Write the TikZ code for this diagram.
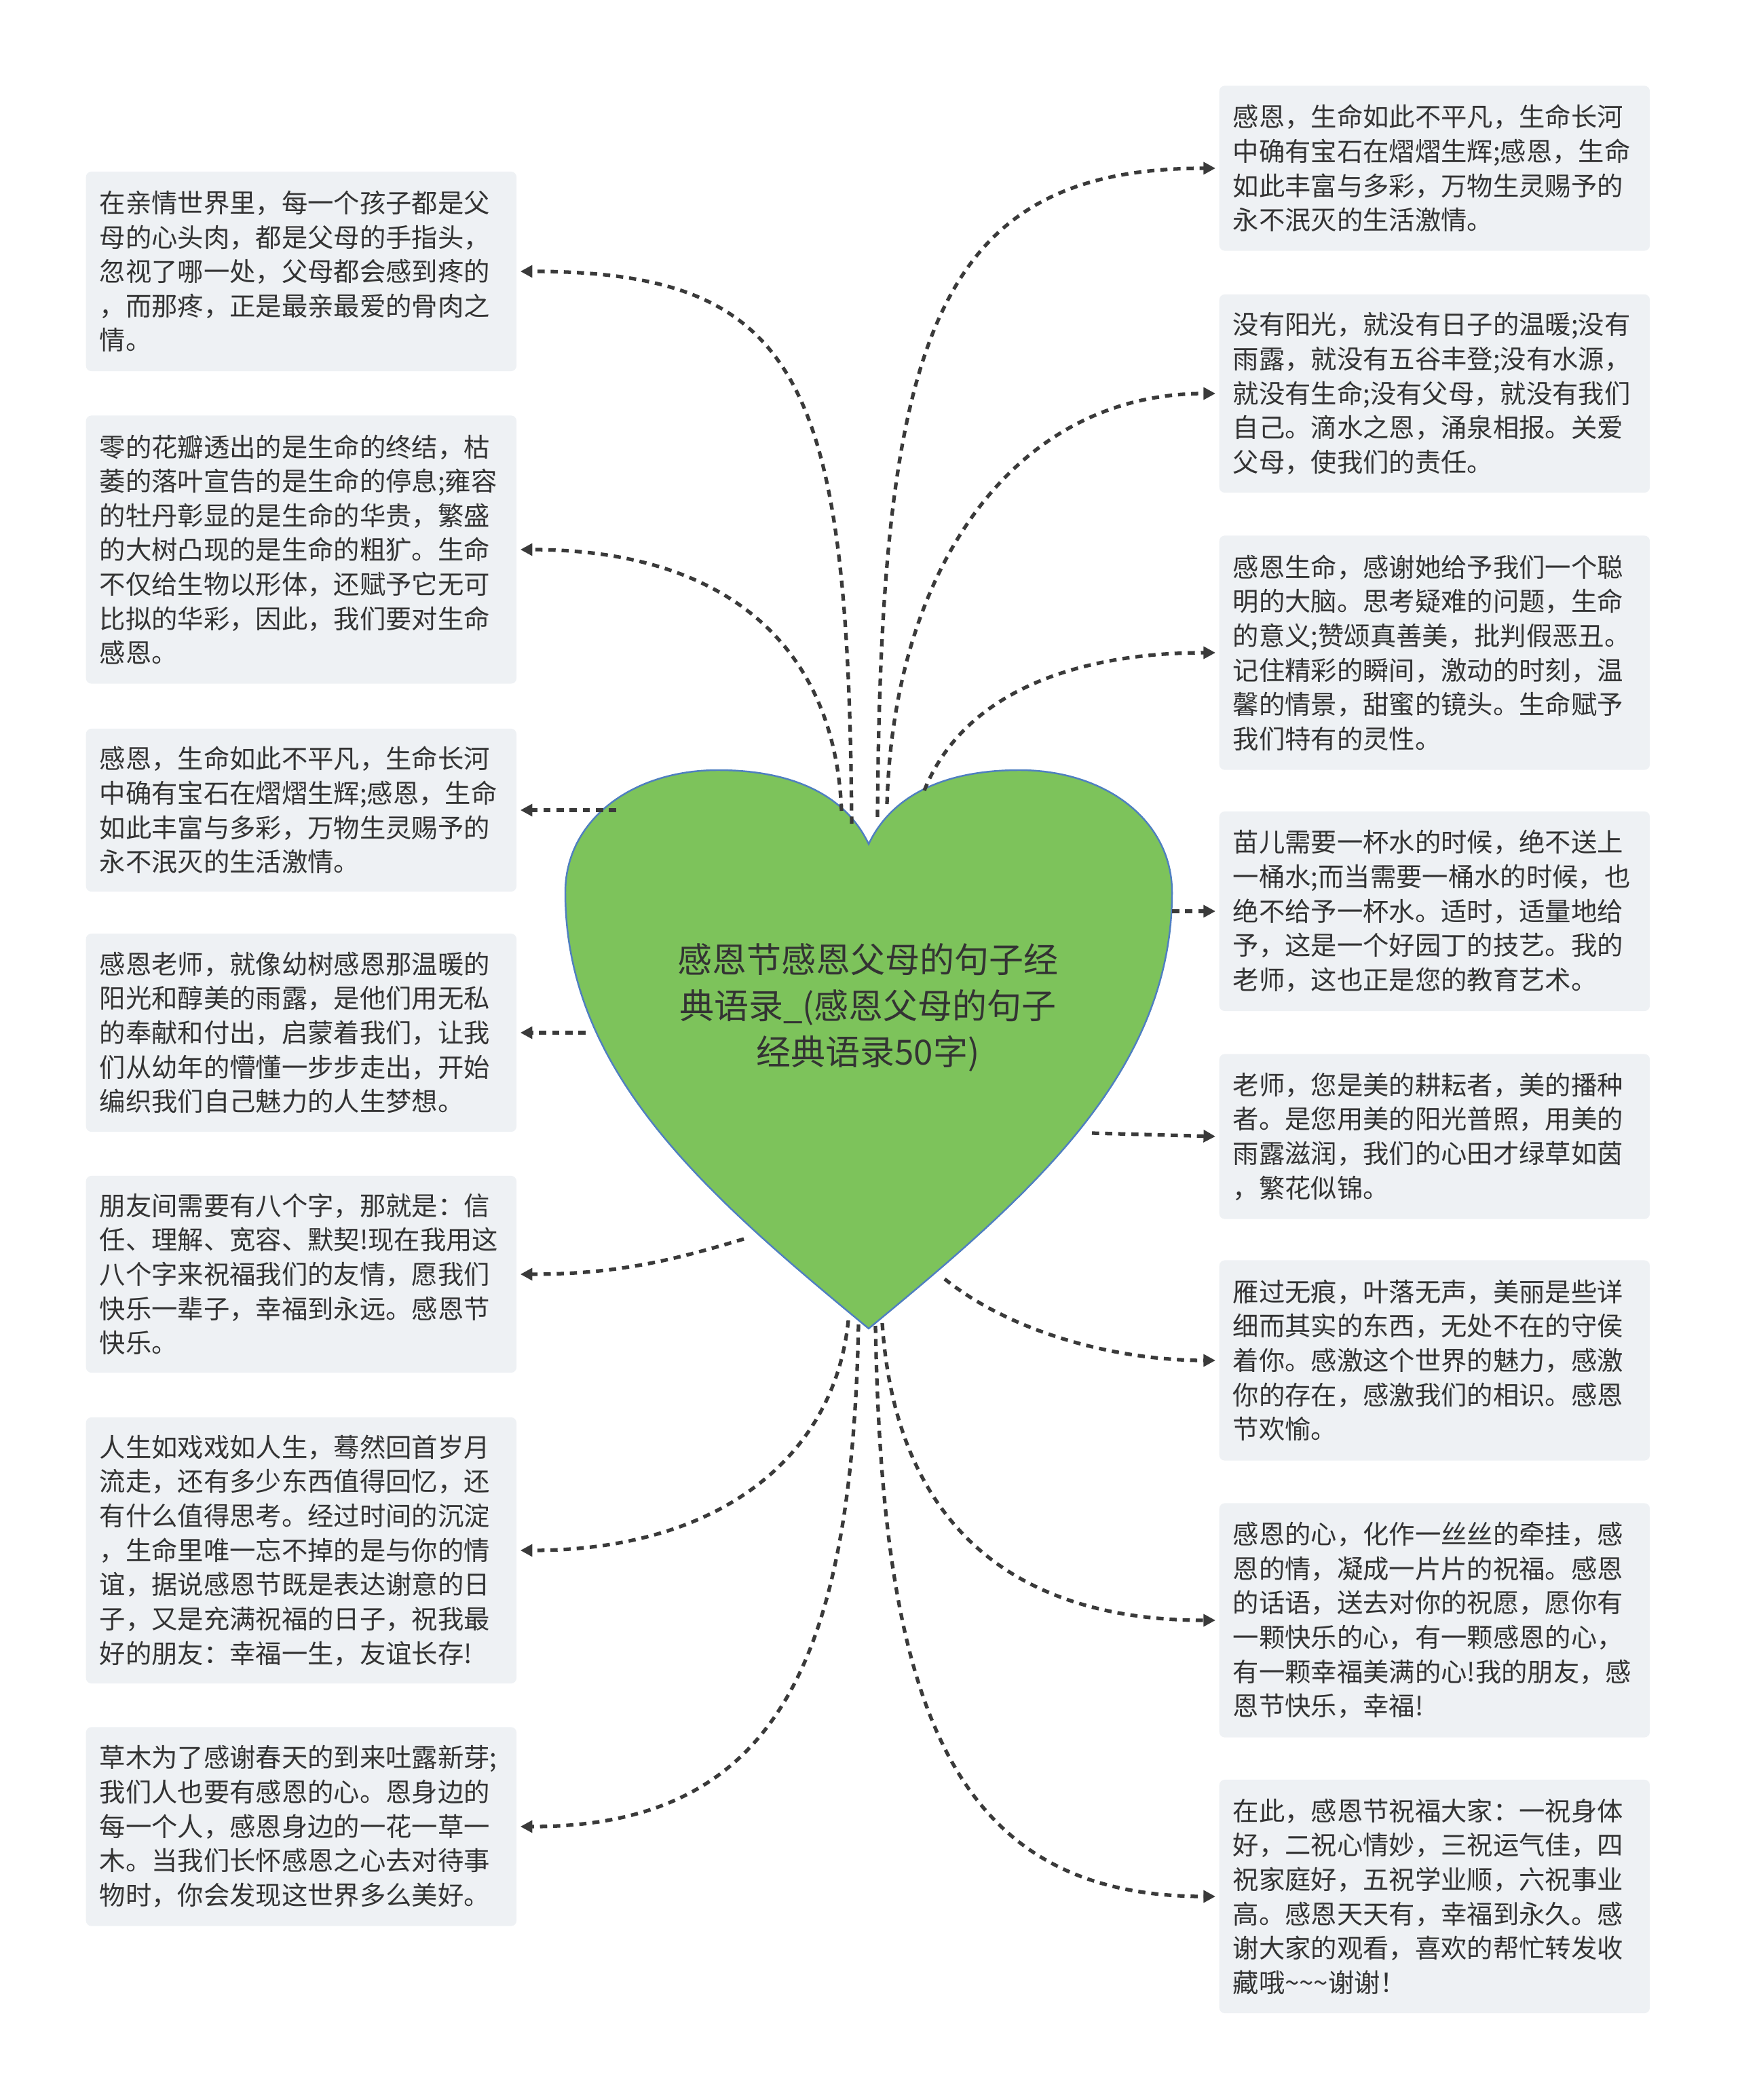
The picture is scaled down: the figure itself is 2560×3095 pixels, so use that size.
\documentclass[tikz,border=0pt]{standalone}
\usepackage{fontspec}
\setmainfont{Noto Sans CJK SC}
\usetikzlibrary{arrows.meta}
\definecolor{HeartGreen}{HTML}{7DC35B}
\definecolor{HeartEdge}{HTML}{4F7FC0}
\definecolor{NoteFill}{HTML}{EEF1F4}
\definecolor{NoteText}{HTML}{333333}
\definecolor{LinkGray}{HTML}{3A3A3A}

\begin{document}
\begin{tikzpicture}[x=0.01cm,y=-0.01cm]
    \tikzset{quotebox/.style={rounded corners=0.08cm,fill=NoteFill,text=NoteText,minimum width=6.34cm,
      text width=5.94cm,inner xsep=0.2cm,inner ysep=0pt,align=left,font=\fontsize{10.9pt}{14.4pt}\selectfont},
      heartlink/.style={-{Triangle[length=5pt,width=5pt]},LinkGray,line width=1.5pt,
      dash pattern=on 3pt off 2.5pt,shorten >=0.05cm}}
    \useasboundingbox (0,0) rectangle (2560,3095);
    % heart
    \filldraw[fill=HeartGreen,draw=HeartEdge,line width=0.7pt]
      (1280,1244) .. controls (1245,1170) and (1165,1135) .. (1058,1135)
      .. controls (930,1135) and (833,1210) .. (833,1315)
      .. controls (833,1580) and (1040,1760) .. (1280,1958)
      .. controls (1520,1760) and (1727,1580) .. (1727,1315)
      .. controls (1727,1210) and (1630,1135) .. (1502,1135)
      .. controls (1395,1135) and (1315,1170) .. (1280,1244) -- cycle;
    \node[align=center,text=NoteText,font=\fontsize{14.5pt}{19.4pt}\selectfont] (title) at (1279,1485)
      {感恩节感恩父母的句子经\\典语录\_(感恩父母的句子\\经典语录50字)};
    % left column
    \node[quotebox,anchor=west,minimum height=2.94cm] (l1) at (126,400) {在亲情世界里，每一个孩子都是父\\母的心头肉，都是父母的手指头，\\忽视了哪一处，父母都会感到疼的\\，而那疼，正是最亲最爱的骨肉之\\情。};
    \node[quotebox,anchor=west,minimum height=3.95cm] (l2) at (126,810) {零的花瓣透出的是生命的终结，枯\\萎的落叶宣告的是生命的停息;雍容\\的牡丹彰显的是生命的华贵，繁盛\\的大树凸现的是生命的粗犷。生命\\不仅给生物以形体，还赋予它无可\\比拟的华彩，因此，我们要对生命\\感恩。};
    \node[quotebox,anchor=west,minimum height=2.40cm] (l3) at (126,1194) {感恩，生命如此不平凡，生命长河\\中确有宝石在熠熠生辉;感恩，生命\\如此丰富与多彩，万物生灵赐予的\\永不泯灭的生活激情。};
    \node[quotebox,anchor=west,minimum height=2.92cm] (l4) at (126,1522) {感恩老师，就像幼树感恩那温暖的\\阳光和醇美的雨露，是他们用无私\\的奉献和付出，启蒙着我们，让我\\们从幼年的懵懂一步步走出，开始\\编织我们自己魅力的人生梦想。};
    \node[quotebox,anchor=west,minimum height=2.90cm] (l5) at (126,1878) {朋友间需要有八个字，那就是：信\\任、理解、宽容、默契!现在我用这\\八个字来祝福我们的友情，愿我们\\快乐一辈子，幸福到永远。感恩节\\快乐。};
    \node[quotebox,anchor=west,minimum height=3.92cm] (l6) at (126,2285) {人生如戏戏如人生，蓦然回首岁月\\流走，还有多少东西值得回忆，还\\有什么值得思考。经过时间的沉淀\\，生命里唯一忘不掉的是与你的情\\谊，据说感恩节既是表达谢意的日\\子，又是充满祝福的日子，祝我最\\好的朋友：幸福一生，友谊长存!};
    \node[quotebox,anchor=west,minimum height=2.93cm] (l7) at (126,2692) {草木为了感谢春天的到来吐露新芽;\\我们人也要有感恩的心。恩身边的\\每一个人，感恩身边的一花一草一\\木。当我们长怀感恩之心去对待事\\物时，你会发现这世界多么美好。};
    % right column
    \node[quotebox,anchor=west,minimum height=2.43cm] (r1) at (1796,248) {感恩，生命如此不平凡，生命长河\\中确有宝石在熠熠生辉;感恩，生命\\如此丰富与多彩，万物生灵赐予的\\永不泯灭的生活激情。};
    \node[quotebox,anchor=west,minimum height=2.92cm] (r2) at (1796,580) {没有阳光，就没有日子的温暖;没有\\雨露，就没有五谷丰登;没有水源，\\就没有生命;没有父母，就没有我们\\自己。滴水之恩，涌泉相报。关爱\\父母，使我们的责任。};
    \node[quotebox,anchor=west,minimum height=3.45cm] (r3) at (1796,962) {感恩生命，感谢她给予我们一个聪\\明的大脑。思考疑难的问题，生命\\的意义;赞颂真善美，批判假恶丑。\\记住精彩的瞬间，激动的时刻，温\\馨的情景，甜蜜的镜头。生命赋予\\我们特有的灵性。};
    \node[quotebox,anchor=west,minimum height=2.94cm] (r4) at (1796,1343) {苗儿需要一杯水的时候，绝不送上\\一桶水;而当需要一桶水的时候，也\\绝不给予一杯水。适时，适量地给\\予，这是一个好园丁的技艺。我的\\老师，这也正是您的教育艺术。};
    \node[quotebox,anchor=west,minimum height=2.43cm] (r5) at (1796,1675) {老师，您是美的耕耘者，美的播种\\者。是您用美的阳光普照，用美的\\雨露滋润，我们的心田才绿草如茵\\，繁花似锦。};
    \node[quotebox,anchor=west,minimum height=2.95cm] (r6) at (1796,2005) {雁过无痕，叶落无声，美丽是些详\\细而其实的东西，无处不在的守侯\\着你。感激这个世界的魅力，感激\\你的存在，感激我们的相识。感恩\\节欢愉。};
    \node[quotebox,anchor=west,minimum height=3.45cm] (r7) at (1796,2388) {感恩的心，化作一丝丝的牵挂，感\\恩的情，凝成一片片的祝福。感恩\\的话语，送去对你的祝愿，愿你有\\一颗快乐的心，有一颗感恩的心，\\有一颗幸福美满的心!我的朋友，感\\恩节快乐，幸福!};
    \node[quotebox,anchor=west,minimum height=3.44cm] (r8) at (1796,2795) {在此，感恩节祝福大家：一祝身体\\好，二祝心情妙，三祝运气佳，四\\祝家庭好，五祝学业顺，六祝事业\\高。感恩天天有，幸福到永久。感\\谢大家的观看，喜欢的帮忙转发收\\藏哦\textasciitilde\textasciitilde\textasciitilde 谢谢！};
    % start points on the heart
    \coordinate (hl1) at (1255,1214);
    \coordinate (hl2) at (1240,1195);
    \coordinate (hl3) at (908,1194);
    \coordinate (hl4) at (863,1522);
    \coordinate (hl5) at (1096,1826);
    \coordinate (hl6) at (1250,1946);
    \coordinate (hl7) at (1265,1952);
    \coordinate (hr1) at (1293,1204);
    \coordinate (hr2) at (1307,1185);
    \coordinate (hr3) at (1362,1165);
    \coordinate (hr4) at (1727,1343);
    \coordinate (hr5) at (1609,1670);
    \coordinate (hr6) at (1392,1885);
    \coordinate (hr7) at (1300,1950);
    \coordinate (hr8) at (1290,1954);
    % connectors
    \draw[heartlink] (hl1) .. controls +(-5,-650) and +(420,0) .. (l1.east);
    \draw[heartlink] (hl2) .. controls +(-10,-250) and +(300,0) .. (l2.east);
    \draw[heartlink] (hl3) -- (l3.east);
    \draw[heartlink] (hl4) -- (l4.east);
    \draw[heartlink] (hl5) .. controls +(-100,30) and +(150,0) .. (l5.east);
    \draw[heartlink] (hl6) .. controls +(-20,200) and +(300,0) .. (l6.east);
    \draw[heartlink] (hl7) .. controls +(-10,500) and +(380,0) .. (l7.east);
    \draw[heartlink] (hr1) .. controls +(5,-700) and +(-420,0) .. (r1.west);
    \draw[heartlink] (hr2) .. controls +(10,-350) and +(-300,0) .. (r2.west);
    \draw[heartlink] (hr3) .. controls +(60,-150) and +(-200,0) .. (r3.west);
    \draw[heartlink] (hr4) -- (r4.west);
    \draw[heartlink] (hr5) -- (r5.west);
    \draw[heartlink] (hr6) .. controls +(100,80) and +(-150,0) .. (r6.west);
    \draw[heartlink] (hr7) .. controls +(20,300) and +(-300,0) .. (r7.west);
    \draw[heartlink] (hr8) .. controls +(10,550) and +(-400,0) .. (r8.west);
\end{tikzpicture}
\end{document}
